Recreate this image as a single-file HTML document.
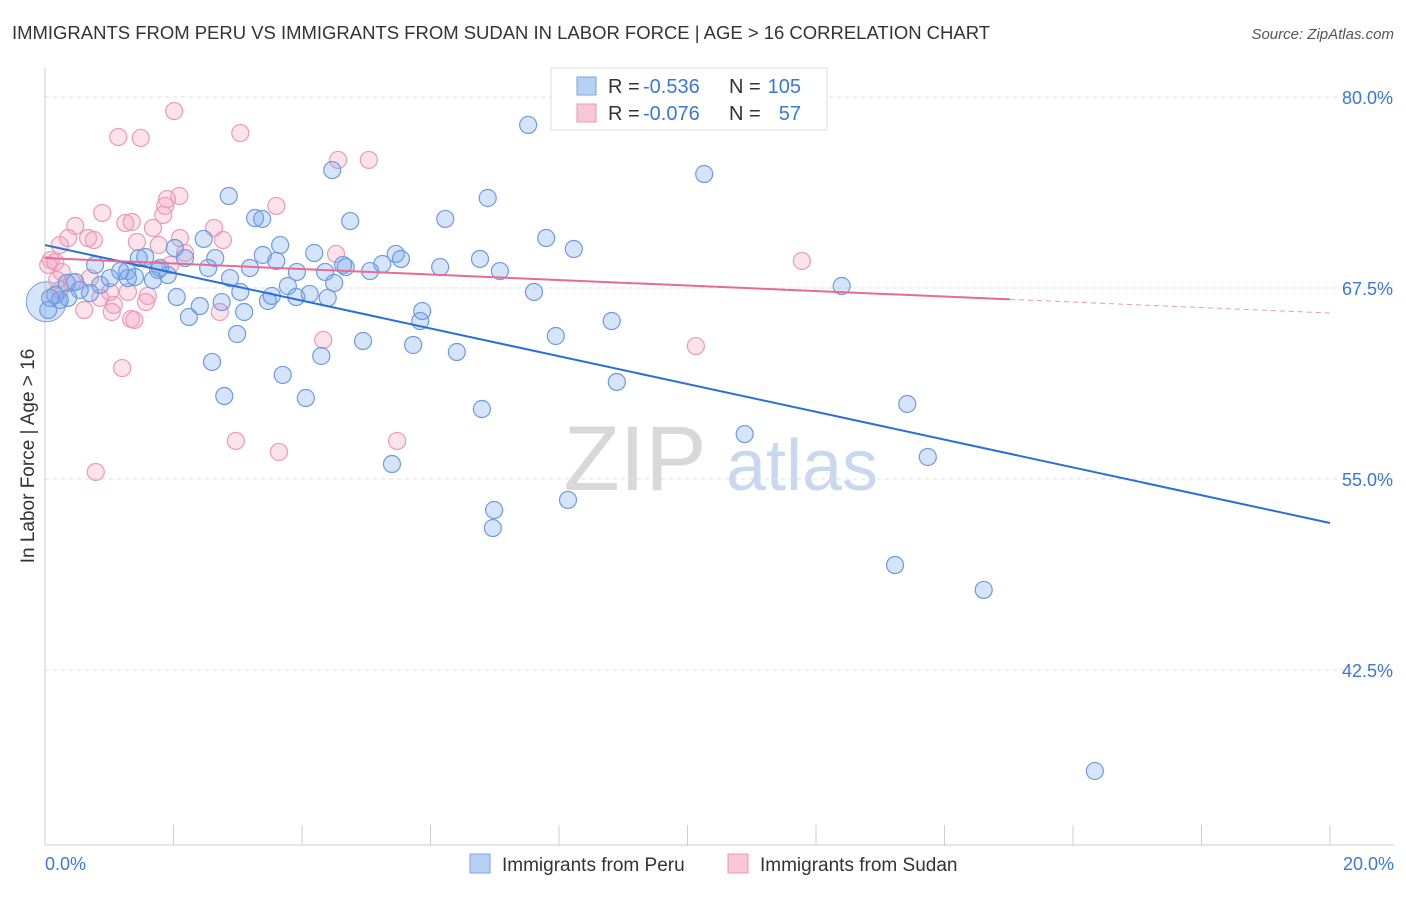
<!DOCTYPE html>
<html><head><meta charset="utf-8"><style>
body{margin:0;background:#fff;font-family:"Liberation Sans",sans-serif;}
svg text{font-family:"Liberation Sans",sans-serif;}
</style></head><body>
<svg id="chart" width="1406" height="892">
<text x="12" y="39" font-size="18" fill="#333" textLength="978" lengthAdjust="spacingAndGlyphs">IMMIGRANTS FROM PERU VS IMMIGRANTS FROM SUDAN IN LABOR FORCE | AGE &gt; 16 CORRELATION CHART</text>
<text x="1394" y="39" font-size="15" fill="#555" font-style="italic" text-anchor="end">Source: ZipAtlas.com</text>
<g><text x="635" y="490" font-size="92" fill="#d8d8d8" font-family="Liberation Serif" text-anchor="middle">ZIP</text><text x="802" y="490" font-size="72" fill="#c8d8ee" text-anchor="middle">atlas</text></g>
<g id="grid"></g><g id="axes"></g><g id="marks"></g>
<text transform="translate(34,456) rotate(-90)" font-size="19" fill="#333" text-anchor="middle">In Labor Force | Age &gt; 16</text>
<g>
<rect x="551" y="68" width="276" height="62" fill="#fff" stroke="#ddd"/>
<rect x="577" y="77" width="19" height="18" fill="#b8d0f4" stroke="#7aa3e0"/>
<rect x="577" y="104" width="19" height="18" fill="#f8c6d6" stroke="#e79ab6"/>
<text x="608" y="93" font-size="20" fill="#333">R =</text>
<text x="643" y="93" font-size="20" fill="#3a78d8">-0.536</text>
<text x="729" y="93" font-size="20" fill="#333">N =</text>
<text x="801" y="93" font-size="20" fill="#3a78d8" text-anchor="end">105</text>
<text x="608" y="120" font-size="20" fill="#333">R =</text>
<text x="643" y="120" font-size="20" fill="#3a78d8">-0.076</text>
<text x="729" y="120" font-size="20" fill="#333">N =</text>
<text x="801" y="120" font-size="20" fill="#3a78d8" text-anchor="end">57</text>
</g>
<g>
<rect x="470" y="854" width="20" height="19" fill="#b8d0f4" stroke="#7aa3e0"/>
<text x="502" y="871" font-size="19" fill="#333">Immigrants from Peru</text>
<rect x="728" y="854" width="20" height="19" fill="#f8c6d6" stroke="#e79ab6"/>
<text x="760" y="871" font-size="19" fill="#333">Immigrants from Sudan</text>
</g>
</svg>
<script>
const yTicks=[80,67.5,55,42.5];
const yTickLabels=["80.0%","67.5%","55.0%","42.5%"];
const xTickLabels=["0.0%","20.0%"];
const peruX=[7.52,10.26,4.47,6.89,2.86,4.75,6.23,3.27,3.38,7.80,8.23,6.77,7.08,7.61,6.15,5.46,5.54,5.25,5.06,4.68,4.64,4.36,4.19,3.92,3.66,3.60,3.39,3.19,2.65,2.54,2.47,2.18,2.02,1.91,1.76,1.79,1.56,1.46,1.28,1.17,1.29,1.01,0.86,0.78,0.70,0.54,0.47,0.36,0.23,0.16,0.08,0.05,2.88,3.04,3.10,2.75,2.41,2.24,2.05,3.47,3.53,3.78,3.91,4.12,4.40,4.50,4.95,5.84,5.87,5.73,6.41,2.99,2.60,3.70,4.30,4.06,2.79,6.80,7.95,8.82,8.90,10.89,13.42,13.74,5.40,6.99,6.97,8.14,12.40,13.23,14.61,16.34,0.34,1.68,1.40];
const peruY=[78.17,74.96,75.22,73.39,73.52,71.88,72.02,72.08,72.02,70.77,70.05,69.40,68.61,67.24,68.87,69.73,69.40,69.07,68.61,68.87,69.01,68.55,69.79,68.55,70.31,69.27,69.66,68.81,69.46,68.81,70.71,69.46,70.12,68.35,68.68,68.81,69.53,69.46,68.61,68.61,68.15,68.15,67.70,69.01,67.17,67.37,67.89,66.85,66.71,67.04,66.85,66.06,68.15,67.24,65.93,66.58,66.32,65.60,66.91,66.65,66.98,67.63,66.91,67.11,66.85,67.83,64.03,65.34,65.99,63.77,63.31,64.49,62.66,61.81,63.05,60.30,60.43,59.58,64.36,65.34,61.35,57.94,59.91,56.44,55.98,52.97,51.79,53.63,67.63,49.37,47.74,35.89,67.83,68.02,68.22];
const sudanX=[2.01,3.04,1.14,1.49,4.56,5.04,3.60,2.09,1.90,1.87,1.84,0.89,1.25,1.35,0.47,0.67,0.36,0.76,0.23,1.43,1.68,1.77,2.10,2.63,2.77,2.18,1.95,4.53,0.09,0.16,0.26,0.42,0.70,1.01,1.07,0.86,1.60,1.57,1.29,1.34,1.39,1.04,0.61,2.72,4.33,10.13,11.78,1.20,0.79,2.97,3.64,5.48,0.23,0.05,0.19];
const sudanY=[79.08,77.64,77.38,77.32,75.88,75.88,72.87,73.52,73.32,72.87,72.28,72.41,71.75,71.82,71.56,70.77,70.77,70.64,70.31,70.51,71.43,70.31,70.77,71.43,70.64,69.79,69.01,69.73,69.33,69.20,68.55,67.89,68.15,67.24,66.39,66.85,66.98,66.58,67.24,65.47,65.41,65.93,66.06,65.93,64.10,63.70,69.27,62.26,55.46,57.49,56.77,57.49,67.37,69.01,68.02];
const peruTrend=[70.31,52.12];
const sudanTrend=[69.46,65.86];
const sudanSolidEnd=15.02;

const NS="http://www.w3.org/2000/svg";
const X0=45,X1=1330,Y80=97,PXPER=191/12.5;
function sx(v){return X0+(X1-X0)*v/20;}
function sy(v){return Y80+(80-v)*PXPER;}
function mk(t,a,p){const e=document.createElementNS(NS,t);for(const k in a)e.setAttribute(k,a[k]);p.appendChild(e);return e;}
const grid=document.getElementById('grid'),axes=document.getElementById('axes'),marks=document.getElementById('marks');
yTicks.forEach((t,i)=>{
 const l=mk('line',{x1:45,x2:1394,y1:sy(t),y2:sy(t),stroke:'#ddd','stroke-dasharray':'4,4'},grid);
 
 
 const tx=mk('text',{x:1393,y:sy(t)+7,'font-size':18,fill:'#3a78d8','text-anchor':'end'},axes);
 tx.textContent=yTickLabels[i];
 
 
});
const ax=mk('line',{x1:45,x2:1394,y1:845,y2:845,stroke:'#ccc'},axes);


const ay=mk('line',{x1:45,x2:45,y1:68,y2:845,stroke:'#ccc'},axes);


for(let i=0;i<=10;i++){const t=mk('line',{x1:sx(i*2),x2:sx(i*2),y1:825,y2:845,stroke:'#ccc'},axes);
 
 }
[[0,'start',45],[1,'end',1394]].forEach(([i,a,x])=>{const t=mk('text',{x:x,y:870,'font-size':18,fill:'#3a78d8','text-anchor':a},axes);t.textContent=xTickLabels[i];
 
 });
const big=mk('circle',{cx:sx(0.02),cy:sy(66.6),r:20,fill:'rgba(120,165,235,0.3)',stroke:'#7aa3e0'},marks);


sudanX.forEach((x,i)=>{const c=mk('circle',{cx:sx(x),cy:sy(sudanY[i]),r:8.5,fill:'rgba(245,160,190,0.3)',stroke:'#eb9ab8','stroke-width':1.2},marks);
 
 });
peruX.forEach((x,i)=>{const c=mk('circle',{cx:sx(x),cy:sy(peruY[i]),r:8.5,fill:'rgba(120,165,235,0.3)',stroke:'#6e9be0','stroke-width':1.2},marks);
 
 });
function ty(tr,x){return tr[0]+(tr[1]-tr[0])*x/20;}
const pl=mk('line',{x1:sx(0),y1:sy(peruTrend[0]),x2:sx(20),y2:sy(peruTrend[1]),stroke:'#2b6fd6','stroke-width':2},marks);


const sl=mk('line',{x1:sx(0),y1:sy(sudanTrend[0]),x2:sx(sudanSolidEnd),y2:sy(ty(sudanTrend,sudanSolidEnd)),stroke:'#e66a96','stroke-width':2},marks);


const sd=mk('line',{x1:sx(sudanSolidEnd),y1:sy(ty(sudanTrend,sudanSolidEnd)),x2:sx(20),y2:sy(sudanTrend[1]),stroke:'#e89ab6','stroke-width':1,'stroke-dasharray':'5,4'},marks);


</script>
</body></html>
